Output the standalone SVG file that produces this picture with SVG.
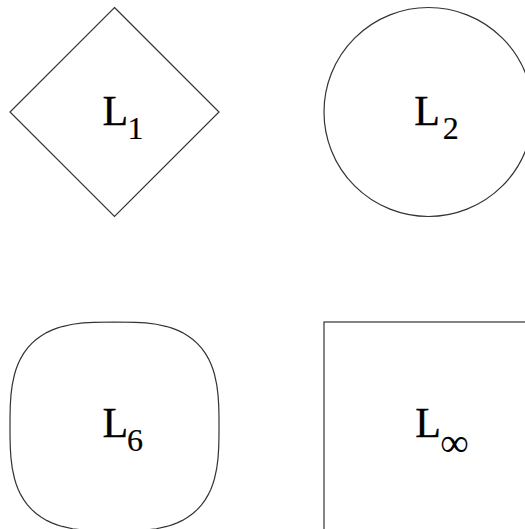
<svg xmlns="http://www.w3.org/2000/svg" width="525" height="529" viewBox="0 0 525 529">
<style>
.shape{fill:none;stroke:#333;stroke-width:1.2}
.lbl{font-family:"Liberation Serif","Times New Roman",serif;font-size:42px;fill:#000;stroke:#000;stroke-width:0.3}
.sub{font-family:"Liberation Serif","Times New Roman",serif;font-size:32px;fill:#000;stroke:#000;stroke-width:0.2;text-anchor:middle}
</style>
<rect width="525" height="529" fill="#fff"/>
<g id="connectors"></g>
<g id="node-L1">
<polygon class="shape" points="114.5,7.5 219,112 114.5,216.5 10,112"/>
<text class="lbl" x="102.5" y="125">L</text>
<text class="sub" x="135.5" y="138.5">1</text>
</g>
<g id="node-L2">
<circle class="shape" cx="428.5" cy="112" r="104.5"/>
<text class="lbl" x="414.3" y="125">L</text>
<text class="sub" x="450.8" y="138.5">2</text>
</g>
<g id="node-L6">
<path class="shape" vector-effect="non-scaling-stroke" transform="translate(114.5,426.5) scale(104.5)" d="M0,-1 L0.2,-0.9973 0.3,-0.9909 0.4,-0.9782 0.5,-0.9565 0.55,-0.9412 0.6,-0.9221 0.65,-0.8985 0.7,-0.8693 0.75,-0.8331 0.7937,-0.7937 0.8331,-0.75 0.8693,-0.7 0.8985,-0.65 0.9221,-0.6 0.9412,-0.55 0.9565,-0.5 0.9782,-0.4 0.9909,-0.3 0.9973,-0.2 0.9997,-0.1 1,0 0.9997,0.1 0.9973,0.2 0.9909,0.3 0.9782,0.4 0.9565,0.5 0.9412,0.55 0.9221,0.6 0.8985,0.65 0.8693,0.7 0.8331,0.75 0.7937,0.7937 0.75,0.8331 0.7,0.8693 0.65,0.8985 0.6,0.9221 0.55,0.9412 0.5,0.9565 0.4,0.9782 0.3,0.9909 0.2,0.9973 0,1 -0.2,0.9973 -0.3,0.9909 -0.4,0.9782 -0.5,0.9565 -0.55,0.9412 -0.6,0.9221 -0.65,0.8985 -0.7,0.8693 -0.75,0.8331 -0.7937,0.7937 -0.8331,0.75 -0.8693,0.7 -0.8985,0.65 -0.9221,0.6 -0.9412,0.55 -0.9565,0.5 -0.9782,0.4 -0.9909,0.3 -0.9973,0.2 -0.9997,0.1 -1,0 -0.9997,-0.1 -0.9973,-0.2 -0.9909,-0.3 -0.9782,-0.4 -0.9565,-0.5 -0.9412,-0.55 -0.9221,-0.6 -0.8985,-0.65 -0.8693,-0.7 -0.8331,-0.75 -0.7937,-0.7937 -0.75,-0.8331 -0.7,-0.8693 -0.65,-0.8985 -0.6,-0.9221 -0.55,-0.9412 -0.5,-0.9565 -0.4,-0.9782 -0.3,-0.9909 -0.2,-0.9973 Z"/>
<text class="lbl" x="102.5" y="437">L</text>
<text class="sub" x="135" y="451">6</text>
</g>
<g id="node-Linf">
<rect class="shape" x="324" y="322" width="209" height="209"/>
<text class="lbl" x="415.3" y="437">L</text>
<text class="sub" x="454.5" y="456" style="font-size:40px;stroke-width:0">∞</text>
</g>
</svg>
